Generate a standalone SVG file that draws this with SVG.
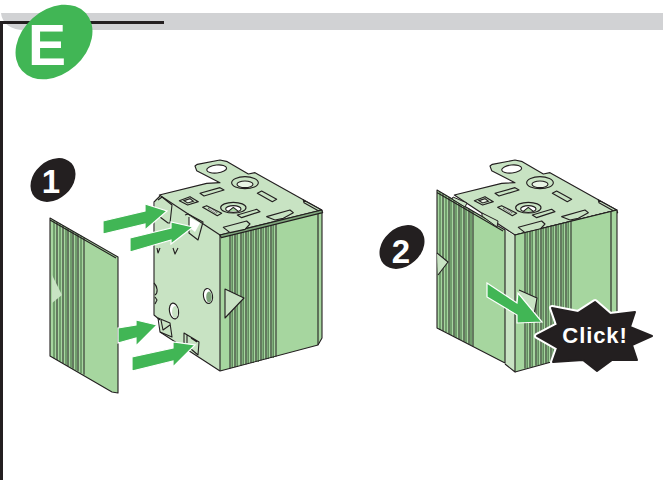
<svg xmlns="http://www.w3.org/2000/svg" width="666" height="480" viewBox="0 0 666 480">
<style>
.l{stroke:#231f20;stroke-width:1.1;fill:none;stroke-linejoin:round}
.lt{fill:#c8e3c3}
.md{fill:#a6d69f}
.st{stroke:#231f20;stroke-width:1;fill:none}
.sd{stroke:#5f8a5c;stroke-width:1.5;fill:none}
.ar{fill:#41b655;stroke:#fff;stroke-width:1.2;stroke-linejoin:miter}
.bd{fill:#231f20}
.num{font-family:"Liberation Sans",Arial,sans-serif;font-weight:700;fill:#fff;text-anchor:middle}
.p{stroke:#231f20;stroke-width:3.4;fill:#c8e3c3;stroke-linejoin:round}
.pw{stroke:#231f20;stroke-width:3.4;fill:#fff}
.fl{fill:#c8e3c3;stroke:#231f20;stroke-width:1;stroke-linejoin:round}
</style>
<defs>
<g id="plate" transform="translate(140 150) scale(.3333)">
<path class="p" d="M58,135L200,100L240,98L170,62L165,48L172,43L240,30L262,35L325,72L345,68L545,180L240,255Z"/>
<ellipse class="pw" cx="230" cy="57" rx="30" ry="12" transform="rotate(-6 230 57)"/>
<ellipse class="p" cx="315" cy="98" rx="40" ry="18"/>
<ellipse class="pw" cx="315" cy="103" rx="24" ry="10" style="fill:#e9f4e6"/>
<ellipse class="p" cx="280" cy="173" rx="38" ry="16"/>
<ellipse class="pw" cx="280" cy="177" rx="23" ry="10"/>
<path class="p" d="M265,184L280,172L295,184" style="fill:#a6d69f"/>
<path class="p" d="M118,152L150,140L175,155L143,165Z"/>
<path class="pw" d="M132,152L150,146L160,154L143,159Z" style="fill:#e9f4e6"/>
<path class="p" d="M180,130L240,113L252,120L192,138Z"/>
<path class="p" d="M352,130L365,123L410,148L397,155Z"/>
<path class="p" d="M188,172L200,167L245,190L232,197Z"/>
<path class="pw" d="M204,175L210,174L232,188L226,189Z" style="stroke-width:1.5"/>
<path class="p" d="M292,195L350,178L360,185L305,203Z"/>
<path class="p" d="M240,255L545,180L548,188L244,263Z" style="fill:#7fa67c"/>
<path class="p" d="M250,232L320,213L330,222L315,238L270,248Z"/>
<path class="p" d="M380,200L450,180L460,188L430,205L405,210Z"/>
<path class="p" d="M490,150L545,180L535,182L492,158Z"/>
</g>
<g id="faceStripes">
<path class="sd" d="M232.2,232V368M237.2,231V367M243.2,229V365M248.2,228V364M253.2,227V363M258.2,226V362M263.2,224V360M268.2,223V359M273.2,222V358"/>
<path class="st" d="M230,232.5V368.5M235,231.3V367.2M241,229.9V365.6M246,228.6V364.4M251,227.4V363.1M256,226.2V361.8M261,225V360.5M266,223.7V359.3M271,222.5V358M276,221.3V356.7"/>
</g>
</defs>

<g id="header">
<path d="M1,13H663V30H24C12,30 2,24 1,13Z" fill="#d1d2d4"/>
<path d="M1.5,480V22.5H164" fill="none" stroke="#231f20" stroke-width="3"/>
</g>
<g id="badge-e">
<ellipse cx="54" cy="42" rx="43" ry="32" fill="#41b655" transform="rotate(-42 54 42)"/>
<text x="28" y="65" font-size="57" class="num" style="text-anchor:start">E</text>
</g>

<g id="badge-1">
<ellipse cx="53" cy="180" rx="25" ry="19" class="bd" transform="rotate(-42 53 180)"/>
<text x="51" y="193" font-size="33" class="num">1</text>
</g>

<g id="panel-left">
<path class="md" d="M50,218L118,257V393L112,392L50,356Z"/>
<path class="sd" d="M54,220.3V358.2M60,223.7V361.5M66,227.2V364.8M71,230V367.5M76,233V370.3M81,235.8V373"/>
<path class="st" d="M57,222V360M63,225.5V363M68,228.3V366M73,231.2V368.7M78,234V371.4M84,237.5V374.7"/>
<path class="lt" d="M52,275L62,295L52,303Z"/>
<path class="l" d="M50,218L118,257V393L112,392L50,356ZM50,220L116,258"/>
</g>

<g id="box-left">
<path class="lt" d="M160,196L220,235V371L160,332L160,320L154,315V260L155,200Z"/>
<path class="md" d="M220,235L322,210V338L318,345L220,371Z"/>
<use href="#faceStripes"/>
<path class="l" d="M220,235V371M318,212V345M160,196L154,202V315L160,320"/>
<path class="l" d="M160,332L220,371L318,345L322,338V210"/>
<use href="#plate"/>
<ellipse cx="174" cy="311" rx="4.5" ry="8" fill="#fff" stroke="#231f20" stroke-width="1.1" transform="rotate(-10 174 311)"/>
<ellipse cx="175" cy="312" rx="3" ry="6" class="lt"/>
<ellipse cx="208" cy="296" rx="4.5" ry="7.5" fill="#fff" stroke="#231f20" stroke-width="1.1" transform="rotate(-10 208 296)"/>
<ellipse cx="209" cy="297" rx="2.8" ry="5.5" fill="#7fa67c"/>
<path class="l" d="M154,283C158,287 158,293 155,295M155,297L157,300L155,304"/>
<path class="lt" d="M225,289L244,298L225,318Z"/>
<path class="l" d="M225,289L244,298L225,318Z"/>
<path fill="#fff" d="M189,217L200,223L195,232L189,227Z"/>
<path class="l" d="M158,200L162,197L172,205L170,223L168,223L160,217M185,215L188,214L203,222L198,240L189,233V217"/>
<path class="l" d="M157,248L158,253L160,248M173,248L175,254L178,248"/>
<path class="l" d="M158,318L170,323L172,337L160,332ZM161,320L163,330L170,325M184,333L199,342L198,355L184,343ZM187,335V343M191,338L197,342"/>
</g>

<g id="arrows-left">
<path class="ar" d="M103,221L145,211V204L167,211L145,230V224L103,234Z"/>
<path class="ar" d="M130,238L171,228V222L193,227L171,244V240L130,252Z"/>
<path class="ar" d="M118,328L136,325V320L157,325L136,346V338L118,343Z"/>
<path class="ar" d="M132,357L173,348V342L195,345L173,367V361L132,371Z"/>
</g>

<g id="badge-2">
<ellipse cx="402" cy="247" rx="25" ry="19" class="bd" transform="rotate(-42 402 247)"/>
<text x="401" y="263" font-size="33" class="num">2</text>
</g>

<g id="box-right">
<use href="#plate" x="295"/>
<path class="md" d="M515,235L617,210V338L613,345L515,372Z"/>
<use href="#faceStripes" x="295"/>
<path class="l" d="M515,235L617,210V338L613,345L515,372M611,212V345"/>
<path class="md" d="M437,190L505,230V363L437,328Z"/>
<path class="sd" d="M440,192V330M446,195V332M451,198V335M456,201V338M461,204V340M466,207V343M471,210V345"/>
<path class="st" d="M443,193.5V331M449,197V334M454,200V336.7M459,203V339.2M464,205.8V341.8M469,208.7V344.3M473,211V346.4"/>
<path class="lt" d="M505,230L515,236V372L505,364Z"/>
<path class="l" d="M437,190L505,230V363L437,328ZM505,364L515,372V235M437,192.5L503,231"/>
<path class="fl" d="M453,197L467,203L465,207L452,199Z"/>
<path class="fl" d="M482,213L498,221L497,227L482,216Z"/>
<path class="lt" d="M437,253L448,262L438,275Z"/>
<path class="l" d="M437,253L448,262L438,275"/>
<path class="lt" d="M519,290L537,298L533,320L519,310Z"/>
<path class="l" d="M519,290L537,298L533,320"/>
</g>

<g id="arrow-click">
<path class="ar" d="M487,283L517,303L518,293L542,322L517,323V315L487,297Z"/>
</g>

<g id="click-burst">
<path d="M595,302L610,315L635,312L630,327L652,336L632,345L637,360L612,360L597,371L583,360L553,362L558,348L537,336L558,325L552,308L578,313Z" fill="#231f20" stroke="#fff" stroke-width="6" stroke-linejoin="round"/>
<path d="M595,302L610,315L635,312L630,327L652,336L632,345L637,360L612,360L597,371L583,360L553,362L558,348L537,336L558,325L552,308L578,313Z" fill="#231f20" stroke="#231f20" stroke-width="2" stroke-linejoin="round"/>
<text x="595" y="343" font-size="22" class="num" letter-spacing=".9">Click!</text>
</g>
</svg>
